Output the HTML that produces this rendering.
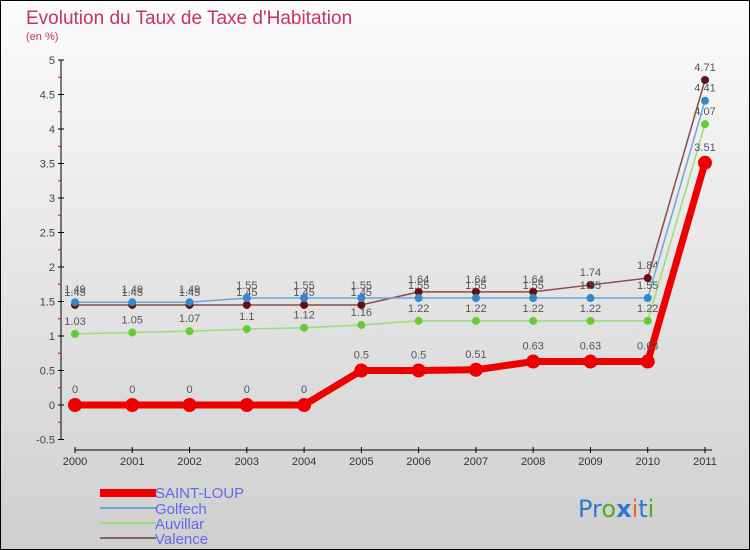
<!DOCTYPE html>
<html><head><meta charset="utf-8"><style>
body{margin:0}
#c{width:750px;height:550px;position:relative;overflow:hidden}
svg{font-family:"Liberation Sans",sans-serif}
</style></head><body>
<div id="c">
<svg id="s" width="750" height="550" xmlns="http://www.w3.org/2000/svg">
<defs><linearGradient id="bg" x1="0" y1="0" x2="0" y2="1"><stop offset="0" stop-color="#fbfbfb"/><stop offset="1" stop-color="#cfcfcf"/></linearGradient></defs>
<rect x="0.5" y="0.5" width="749" height="549" fill="url(#bg)" stroke="#000"/>
<text x="26" y="24" font-size="19" fill="#c83264">Evolution du Taux de Taxe d'Habitation</text>
<text x="26" y="40" font-size="11" fill="#c83264">(en %)</text>
<g id="axes"></g><g id="series"></g>
<g>
<rect x="100" y="489" width="56" height="8" fill="#e00"/>
<text x="155" y="498" font-size="15" fill="#6666ee">SAINT-LOUP</text>
<line x1="100" y1="508" x2="156" y2="508" stroke="#6ea6d8" stroke-width="2"/>
<text x="155" y="514" font-size="15" fill="#6666ee">Golfech</text>
<line x1="100" y1="523" x2="156" y2="523" stroke="#99dd77" stroke-width="2"/>
<text x="155" y="529" font-size="15" fill="#6666ee">Auvillar</text>
<line x1="100" y1="538" x2="156" y2="538" stroke="#8a6262" stroke-width="2"/>
<text x="155" y="544" font-size="15" fill="#6666ee">Valence</text>
</g>
<text x="578" y="517" font-size="24" font-family="DejaVu Sans, sans-serif"><tspan fill="#2a7ad0">Pr</tspan><tspan fill="#55aa22">o</tspan><tspan fill="#2a7ad0" font-weight="bold">x</tspan><tspan fill="#ee6622">i</tspan><tspan fill="#2a7ad0">t</tspan><tspan fill="#55aa22">i</tspan></text>
</svg></div>
<script>
const years=["2000","2001","2002","2003","2004","2005","2006","2007","2008","2009","2010","2011"];
const yTicks=[-0.5,0,0.5,1,1.5,2,2.5,3,3.5,4,4.5,5];
const saintLoup=[0,0,0,0,0,0.5,0.5,0.51,0.63,0.63,0.63,3.51];
const golfech=[1.49,1.49,1.49,1.55,1.55,1.55,1.55,1.55,1.55,1.55,1.55,4.41];
const auvillar=[1.03,1.05,1.07,1.1,1.12,1.16,1.22,1.22,1.22,1.22,1.22,4.07];
const valence=[1.45,1.45,1.45,1.45,1.45,1.45,1.64,1.64,1.64,1.74,1.84,4.71];
const NS="http://www.w3.org/2000/svg";
const xs=i=>75+i*(630/11);
const ys=v=>405-v*69;
function mk(t,a,p){const e=document.createElementNS(NS,t);for(const k in a)e.setAttribute(k,a[k]);p.appendChild(e);return e;}
const ax=document.getElementById('axes');
const yl=mk('line',{x1:61,y1:60,x2:61,y2:440,stroke:'#000'},ax);


const xl=mk('line',{x1:75,y1:450,x2:712,y2:450,stroke:'#000'},ax);


yTicks.forEach(v=>{
 mk('line',{x1:58,y1:ys(v),x2:64,y2:ys(v),stroke:'#000'},ax);
 if(v<5)mk('line',{x1:58,y1:ys(v+0.25),x2:61,y2:ys(v+0.25),stroke:'#e00'},ax);
 const t=mk('text',{x:55,y:ys(v)+4,'font-size':11,fill:'#444','text-anchor':'end'},ax);t.textContent=String(v);
 
 
});
years.forEach((y,i)=>{
 mk('line',{x1:xs(i),y1:447,x2:xs(i),y2:453,stroke:'#000'},ax);
 const t=mk('text',{x:xs(i),y:465,'font-size':11,fill:'#333','text-anchor':'middle'},ax);t.textContent=y;
 
 
});
const sg=document.getElementById('series');
function draw(name,data,color,w,r,dot){
 const g=mk('g',{},sg);
 
 
 mk('polyline',{points:data.map((v,i)=>xs(i)+','+ys(v)).join(' '),fill:'none',stroke:color,'stroke-width':w,'stroke-linejoin':'round'},g);
 data.forEach((v,i)=>{
  const c=mk('circle',{cx:xs(i),cy:ys(v),r:r,fill:dot},g);
  
  
  const t=mk('text',{x:xs(i),y:ys(v)-r-5,'font-size':11,fill:'#555','text-anchor':'middle'},g);t.textContent=String(v);
 });
}
draw('auvillar',auvillar,'#99dd77',1.5,4,'#66cc33');
draw('valence',valence,'#8a4a4a',1.5,4,'#661111');
draw('golfech',golfech,'#6ea6d8',1.5,4,'#3388cc');
draw('saint-loup',saintLoup,'#ee0000',7,7,'#ee0000');
</script>
</body></html>
